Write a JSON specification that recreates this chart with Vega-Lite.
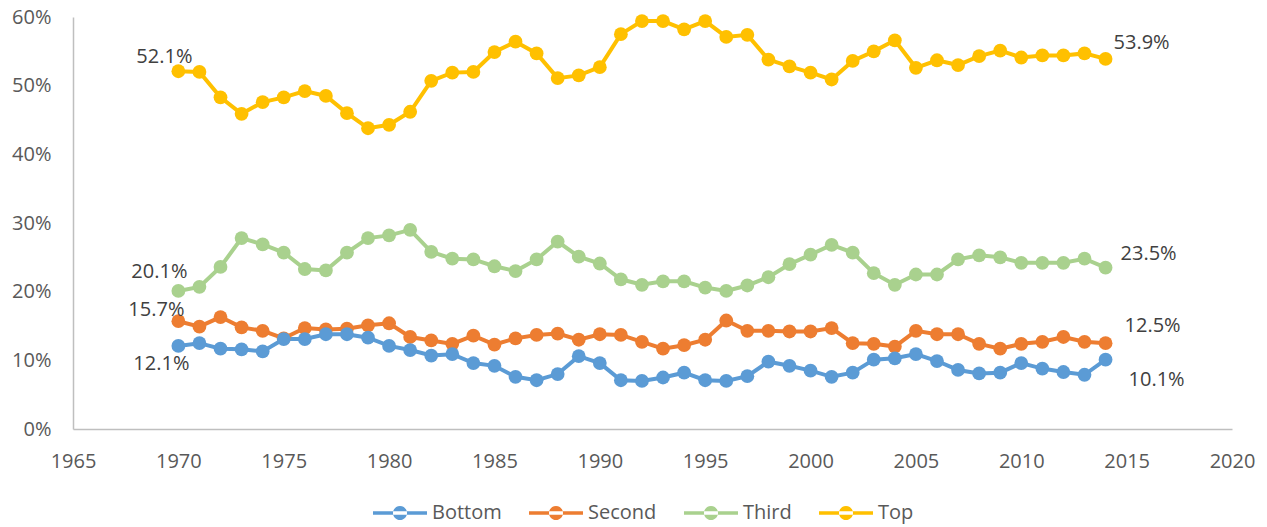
{
  "$schema": "https://vega.github.io/schema/vega-lite/v6.json",
  "width": 1159,
  "height": 412,
  "autosize": {"type": "none"},
  "padding": {"left": 73, "top": 17, "right": 35, "bottom": 98},
  "background": "white",
  "config": {
    "view": {"stroke": null},
    "font": "Open Sans",
    "axis": {"labelFont": "Open Sans", "labelFontSize": 20, "labelColor": "#595959", "grid": false, "ticks": false, "domainColor": "#BFBFBF", "domainWidth": 1.5, "title": null},
    "legend": {"labelFont": "Open Sans", "labelFontSize": 20, "labelColor": "#595959"}
  },
  "data": {"values": [
    {"year":1970,"series":"Top","value":0.521},{"year":1971,"series":"Top","value":0.520},{"year":1972,"series":"Top","value":0.483},{"year":1973,"series":"Top","value":0.459},{"year":1974,"series":"Top","value":0.476},{"year":1975,"series":"Top","value":0.483},{"year":1976,"series":"Top","value":0.492},{"year":1977,"series":"Top","value":0.485},{"year":1978,"series":"Top","value":0.460},{"year":1979,"series":"Top","value":0.438},{"year":1980,"series":"Top","value":0.443},{"year":1981,"series":"Top","value":0.462},{"year":1982,"series":"Top","value":0.507},{"year":1983,"series":"Top","value":0.519},{"year":1984,"series":"Top","value":0.520},{"year":1985,"series":"Top","value":0.549},{"year":1986,"series":"Top","value":0.564},{"year":1987,"series":"Top","value":0.547},{"year":1988,"series":"Top","value":0.511},{"year":1989,"series":"Top","value":0.515},{"year":1990,"series":"Top","value":0.527},{"year":1991,"series":"Top","value":0.575},{"year":1992,"series":"Top","value":0.594},{"year":1993,"series":"Top","value":0.594},{"year":1994,"series":"Top","value":0.582},{"year":1995,"series":"Top","value":0.594},{"year":1996,"series":"Top","value":0.571},{"year":1997,"series":"Top","value":0.574},{"year":1998,"series":"Top","value":0.538},{"year":1999,"series":"Top","value":0.528},{"year":2000,"series":"Top","value":0.519},{"year":2001,"series":"Top","value":0.509},{"year":2002,"series":"Top","value":0.536},{"year":2003,"series":"Top","value":0.550},{"year":2004,"series":"Top","value":0.566},{"year":2005,"series":"Top","value":0.526},{"year":2006,"series":"Top","value":0.537},{"year":2007,"series":"Top","value":0.530},{"year":2008,"series":"Top","value":0.543},{"year":2009,"series":"Top","value":0.551},{"year":2010,"series":"Top","value":0.541},{"year":2011,"series":"Top","value":0.544},{"year":2012,"series":"Top","value":0.544},{"year":2013,"series":"Top","value":0.547},{"year":2014,"series":"Top","value":0.539},
    {"year":1970,"series":"Third","value":0.201},{"year":1971,"series":"Third","value":0.207},{"year":1972,"series":"Third","value":0.236},{"year":1973,"series":"Third","value":0.278},{"year":1974,"series":"Third","value":0.269},{"year":1975,"series":"Third","value":0.257},{"year":1976,"series":"Third","value":0.233},{"year":1977,"series":"Third","value":0.231},{"year":1978,"series":"Third","value":0.257},{"year":1979,"series":"Third","value":0.278},{"year":1980,"series":"Third","value":0.282},{"year":1981,"series":"Third","value":0.290},{"year":1982,"series":"Third","value":0.258},{"year":1983,"series":"Third","value":0.248},{"year":1984,"series":"Third","value":0.247},{"year":1985,"series":"Third","value":0.237},{"year":1986,"series":"Third","value":0.230},{"year":1987,"series":"Third","value":0.247},{"year":1988,"series":"Third","value":0.273},{"year":1989,"series":"Third","value":0.251},{"year":1990,"series":"Third","value":0.241},{"year":1991,"series":"Third","value":0.218},{"year":1992,"series":"Third","value":0.210},{"year":1993,"series":"Third","value":0.215},{"year":1994,"series":"Third","value":0.215},{"year":1995,"series":"Third","value":0.206},{"year":1996,"series":"Third","value":0.201},{"year":1997,"series":"Third","value":0.209},{"year":1998,"series":"Third","value":0.221},{"year":1999,"series":"Third","value":0.240},{"year":2000,"series":"Third","value":0.254},{"year":2001,"series":"Third","value":0.268},{"year":2002,"series":"Third","value":0.257},{"year":2003,"series":"Third","value":0.227},{"year":2004,"series":"Third","value":0.210},{"year":2005,"series":"Third","value":0.225},{"year":2006,"series":"Third","value":0.225},{"year":2007,"series":"Third","value":0.247},{"year":2008,"series":"Third","value":0.253},{"year":2009,"series":"Third","value":0.250},{"year":2010,"series":"Third","value":0.242},{"year":2011,"series":"Third","value":0.242},{"year":2012,"series":"Third","value":0.242},{"year":2013,"series":"Third","value":0.248},{"year":2014,"series":"Third","value":0.235},
    {"year":1970,"series":"Second","value":0.157},{"year":1971,"series":"Second","value":0.149},{"year":1972,"series":"Second","value":0.163},{"year":1973,"series":"Second","value":0.148},{"year":1974,"series":"Second","value":0.143},{"year":1975,"series":"Second","value":0.132},{"year":1976,"series":"Second","value":0.147},{"year":1977,"series":"Second","value":0.145},{"year":1978,"series":"Second","value":0.146},{"year":1979,"series":"Second","value":0.151},{"year":1980,"series":"Second","value":0.154},{"year":1981,"series":"Second","value":0.134},{"year":1982,"series":"Second","value":0.129},{"year":1983,"series":"Second","value":0.124},{"year":1984,"series":"Second","value":0.136},{"year":1985,"series":"Second","value":0.123},{"year":1986,"series":"Second","value":0.132},{"year":1987,"series":"Second","value":0.137},{"year":1988,"series":"Second","value":0.139},{"year":1989,"series":"Second","value":0.130},{"year":1990,"series":"Second","value":0.138},{"year":1991,"series":"Second","value":0.137},{"year":1992,"series":"Second","value":0.127},{"year":1993,"series":"Second","value":0.117},{"year":1994,"series":"Second","value":0.122},{"year":1995,"series":"Second","value":0.130},{"year":1996,"series":"Second","value":0.158},{"year":1997,"series":"Second","value":0.143},{"year":1998,"series":"Second","value":0.143},{"year":1999,"series":"Second","value":0.142},{"year":2000,"series":"Second","value":0.142},{"year":2001,"series":"Second","value":0.147},{"year":2002,"series":"Second","value":0.125},{"year":2003,"series":"Second","value":0.124},{"year":2004,"series":"Second","value":0.120},{"year":2005,"series":"Second","value":0.143},{"year":2006,"series":"Second","value":0.138},{"year":2007,"series":"Second","value":0.138},{"year":2008,"series":"Second","value":0.124},{"year":2009,"series":"Second","value":0.117},{"year":2010,"series":"Second","value":0.124},{"year":2011,"series":"Second","value":0.127},{"year":2012,"series":"Second","value":0.134},{"year":2013,"series":"Second","value":0.127},{"year":2014,"series":"Second","value":0.125},
    {"year":1970,"series":"Bottom","value":0.121},{"year":1971,"series":"Bottom","value":0.125},{"year":1972,"series":"Bottom","value":0.117},{"year":1973,"series":"Bottom","value":0.116},{"year":1974,"series":"Bottom","value":0.113},{"year":1975,"series":"Bottom","value":0.131},{"year":1976,"series":"Bottom","value":0.131},{"year":1977,"series":"Bottom","value":0.138},{"year":1978,"series":"Bottom","value":0.138},{"year":1979,"series":"Bottom","value":0.133},{"year":1980,"series":"Bottom","value":0.121},{"year":1981,"series":"Bottom","value":0.115},{"year":1982,"series":"Bottom","value":0.107},{"year":1983,"series":"Bottom","value":0.109},{"year":1984,"series":"Bottom","value":0.096},{"year":1985,"series":"Bottom","value":0.092},{"year":1986,"series":"Bottom","value":0.076},{"year":1987,"series":"Bottom","value":0.071},{"year":1988,"series":"Bottom","value":0.080},{"year":1989,"series":"Bottom","value":0.106},{"year":1990,"series":"Bottom","value":0.096},{"year":1991,"series":"Bottom","value":0.071},{"year":1992,"series":"Bottom","value":0.070},{"year":1993,"series":"Bottom","value":0.075},{"year":1994,"series":"Bottom","value":0.082},{"year":1995,"series":"Bottom","value":0.071},{"year":1996,"series":"Bottom","value":0.070},{"year":1997,"series":"Bottom","value":0.077},{"year":1998,"series":"Bottom","value":0.098},{"year":1999,"series":"Bottom","value":0.092},{"year":2000,"series":"Bottom","value":0.085},{"year":2001,"series":"Bottom","value":0.076},{"year":2002,"series":"Bottom","value":0.082},{"year":2003,"series":"Bottom","value":0.101},{"year":2004,"series":"Bottom","value":0.103},{"year":2005,"series":"Bottom","value":0.109},{"year":2006,"series":"Bottom","value":0.099},{"year":2007,"series":"Bottom","value":0.086},{"year":2008,"series":"Bottom","value":0.081},{"year":2009,"series":"Bottom","value":0.082},{"year":2010,"series":"Bottom","value":0.096},{"year":2011,"series":"Bottom","value":0.088},{"year":2012,"series":"Bottom","value":0.083},{"year":2013,"series":"Bottom","value":0.079},{"year":2014,"series":"Bottom","value":0.101}
  ]},
  "encoding": {
    "x": {"field": "year", "type": "quantitative", "scale": {"domain": [1965, 2020], "nice": false, "zero": false},
      "axis": {"values": [1965,1970,1975,1980,1985,1990,1995,2000,2005,2010,2015,2020], "format": "d", "labelPadding": 22, "labelFlush": false}},
    "y": {"field": "value", "type": "quantitative", "scale": {"domain": [0, 0.6], "nice": false},
      "axis": {"values": [0,0.1,0.2,0.3,0.4,0.5,0.6], "format": ".0%", "labelPadding": 22}}
  },
  "layer": [
    {
      "mark": {"type": "line", "strokeWidth": 4, "point": {"filled": true, "size": 190}},
      "encoding": {
        "color": {"field": "series", "type": "nominal",
          "scale": {"domain": ["Bottom","Second","Third","Top"], "range": ["#5B9BD5","#ED7D31","#A9D18E","#FFC000"]},
          "legend": {"title": null, "orient": "none", "direction": "horizontal", "legendX": 300, "legendY": 469,
            "symbolType": "M-1,-0.065H1V0.065H-1Z M-0.26,0A0.26,0.26 0 1,0 0.26,0A0.26,0.26 0 1,0 -0.26,0Z",
            "symbolSize": 2916, "symbolStrokeWidth": 0, "labelOffset": 5, "columnPadding": 27,
            "encode": {"symbols": {"update": {"fill": {"scale": "color", "field": "value"}, "opacity": {"value": 1}, "strokeWidth": {"value": 0}}}}}}
      }
    },
    {"transform": [{"filter": "datum.year == 1970 && datum.series == 'Top'"}], "mark": {"type": "text", "align": "center", "baseline": "middle", "dx": -14, "dy": -14, "fontSize": 20, "color": "#404040"}, "encoding": {"text": {"field": "value", "format": ".1%"}}},
    {"transform": [{"filter": "datum.year == 1970 && datum.series == 'Third'"}], "mark": {"type": "text", "align": "center", "baseline": "middle", "dx": -19, "dy": -19, "fontSize": 20, "color": "#404040"}, "encoding": {"text": {"field": "value", "format": ".1%"}}},
    {"transform": [{"filter": "datum.year == 1970 && datum.series == 'Second'"}], "mark": {"type": "text", "align": "center", "baseline": "middle", "dx": -22, "dy": -11, "fontSize": 20, "color": "#404040"}, "encoding": {"text": {"field": "value", "format": ".1%"}}},
    {"transform": [{"filter": "datum.year == 1970 && datum.series == 'Bottom'"}], "mark": {"type": "text", "align": "center", "baseline": "middle", "dx": -17, "dy": 18, "fontSize": 20, "color": "#404040"}, "encoding": {"text": {"field": "value", "format": ".1%"}}},
    {"transform": [{"filter": "datum.year == 2014 && datum.series == 'Top'"}], "mark": {"type": "text", "align": "left", "baseline": "middle", "dx": 8, "dy": -16, "fontSize": 20, "color": "#404040"}, "encoding": {"text": {"field": "value", "format": ".1%"}}},
    {"transform": [{"filter": "datum.year == 2014 && datum.series == 'Third'"}], "mark": {"type": "text", "align": "left", "baseline": "middle", "dx": 15, "dy": -14, "fontSize": 20, "color": "#404040"}, "encoding": {"text": {"field": "value", "format": ".1%"}}},
    {"transform": [{"filter": "datum.year == 2014 && datum.series == 'Second'"}], "mark": {"type": "text", "align": "left", "baseline": "middle", "dx": 19, "dy": -17, "fontSize": 20, "color": "#404040"}, "encoding": {"text": {"field": "value", "format": ".1%"}}},
    {"transform": [{"filter": "datum.year == 2014 && datum.series == 'Bottom'"}], "mark": {"type": "text", "align": "left", "baseline": "middle", "dx": 23, "dy": 20, "fontSize": 20, "color": "#404040"}, "encoding": {"text": {"field": "value", "format": ".1%"}}}
  ]
}
